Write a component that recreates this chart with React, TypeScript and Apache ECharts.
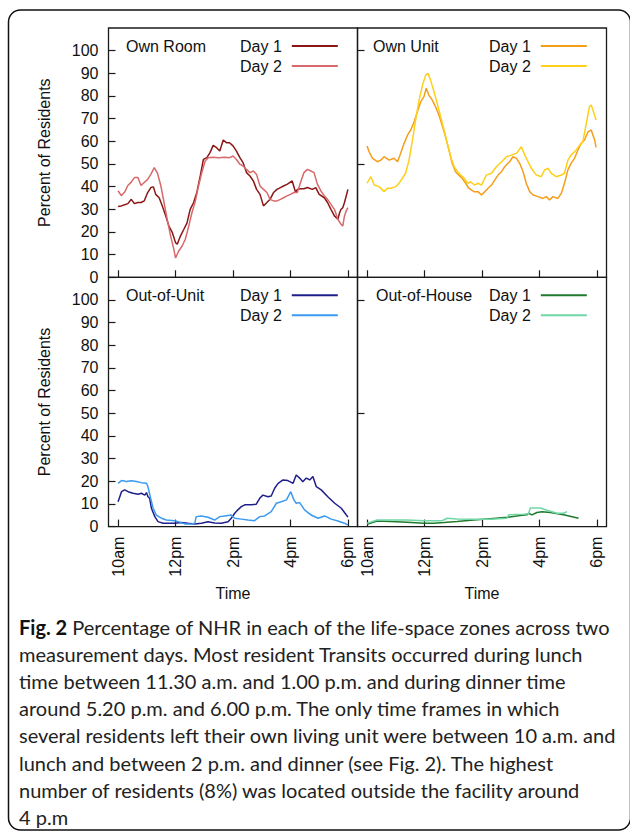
import React, { useEffect, useRef } from "react";
import * as echarts from "echarts";

const FONT = '"Liberation Sans", Arial, Helvetica, sans-serif';
const CAPTION_FONT = 'Lato, "Open Sans", sans-serif';

// x in hours after 10am
const tickHours = [0, 2, 4, 6, 8];
const tickLabels = ["10am", "12pm", "2pm", "4pm", "6pm"];
const yTickValues = [0, 10, 20, 30, 40, 50, 60, 70, 80, 90, 100];
const yTickValuesRight = [50, 100];

const panelTitles = ["Own Room", "Own Unit", "Out-of-Unit", "Out-of-House"];
const dayLabels = ["Day 1", "Day 2"];

const ownRoomDay1Hours = [0, 0.11, 0.23, 0.34, 0.46, 0.57, 0.69, 0.8, 0.91, 1.03, 1.14, 1.23, 1.31, 1.43, 1.54, 1.66, 1.77, 1.89, 2.0, 2.06, 2.17, 2.29, 2.4, 2.51, 2.63, 2.74, 2.86, 2.97, 3.09, 3.2, 3.31, 3.43, 3.54, 3.66, 3.77, 3.88, 4.0, 4.12, 4.24, 4.35, 4.47, 4.59, 4.71, 4.82, 4.94, 5.06, 5.18, 5.29, 5.41, 5.53, 5.65, 5.76, 5.88, 6.06, 6.18, 6.24, 6.35, 6.47, 6.59, 6.76, 6.88, 7.0, 7.18, 7.29, 7.41, 7.53, 7.65, 7.71, 7.76, 7.82, 7.88, 7.94, 8.0];
const ownRoomDay1Values = [31.2, 31.5, 32, 32.5, 34.4, 32.5, 33, 33, 33.7, 37.4, 39.6, 39.9, 36.6, 35.1, 31.5, 27, 22.6, 19.7, 15.3, 14.6, 18.2, 21.2, 24, 30, 33, 37.4, 44.7, 52, 52.8, 55, 58.2, 57.2, 55.7, 60.6, 59.4, 59.4, 58, 55.7, 52.8, 50.6, 46.2, 44.7, 42.5, 38.8, 36.6, 31.5, 33, 34.4, 37.4, 38.8, 39.6, 40.3, 41, 42.5, 37.4, 38.8, 39.1, 39.1, 39.6, 38.8, 39.6, 36.6, 35.1, 33, 30, 27.1, 25.6, 28.5, 30, 30.7, 33, 35.9, 38.8];

const ownRoomDay2Hours = [0, 0.11, 0.23, 0.34, 0.46, 0.57, 0.69, 0.8, 0.91, 1.03, 1.14, 1.26, 1.37, 1.49, 1.6, 1.71, 1.83, 1.94, 2.0, 2.11, 2.23, 2.34, 2.46, 2.57, 2.69, 2.8, 2.91, 3.03, 3.14, 3.3, 3.5, 3.7, 3.88, 4.0, 4.12, 4.24, 4.35, 4.47, 4.59, 4.71, 4.82, 4.94, 5.06, 5.18, 5.29, 5.41, 5.53, 5.65, 5.76, 5.88, 6.0, 6.12, 6.24, 6.35, 6.47, 6.59, 6.71, 6.82, 6.94, 7.06, 7.18, 7.29, 7.41, 7.53, 7.65, 7.76, 7.82, 7.88, 7.94, 8.0];
const ownRoomDay2Values = [38.2, 36, 37.6, 40.5, 42, 44, 44, 40.5, 41.8, 43.2, 45.4, 48.4, 46, 40.3, 33, 25.6, 18.2, 12.4, 8.5, 11.6, 13.8, 16.8, 22.6, 28.5, 33.6, 40.3, 46, 51.3, 52.8, 53, 52.8, 53, 52.8, 53.5, 52, 49.9, 49.1, 47.6, 46.2, 46.9, 45.4, 40.3, 38.8, 37.4, 34.4, 33.7, 33.7, 34.4, 35.1, 35.9, 36.6, 37.4, 37.4, 41.8, 46.2, 47.6, 46.9, 46.2, 41, 38.1, 35.9, 34.4, 32.2, 30, 25.6, 23.4, 22.6, 27.1, 29.3, 30.7];

const ownUnitDay1Hours = [0, 0.07, 0.19, 0.36, 0.48, 0.59, 0.77, 0.94, 1.06, 1.17, 1.29, 1.41, 1.52, 1.64, 1.75, 1.87, 1.98, 2.06, 2.15, 2.27, 2.38, 2.5, 2.61, 2.73, 2.85, 2.96, 3.08, 3.19, 3.31, 3.43, 3.54, 3.72, 3.86, 3.98, 4.1, 4.21, 4.33, 4.44, 4.56, 4.68, 4.79, 4.96, 5.08, 5.2, 5.31, 5.43, 5.54, 5.66, 5.78, 5.95, 6.12, 6.24, 6.35, 6.47, 6.64, 6.76, 6.87, 6.99, 7.1, 7.22, 7.34, 7.45, 7.57, 7.69, 7.8, 7.86, 7.92, 7.97];
const ownUnitDay1Values = [57.9, 55.4, 52.5, 51, 51.7, 53.2, 51.7, 52.5, 51, 54.7, 59.1, 62.8, 65, 68.6, 73, 77.5, 79.7, 83.4, 80.4, 78.2, 75.3, 71.6, 67.2, 62, 56.2, 50.3, 46.6, 45.1, 43.7, 41.5, 39.3, 37.8, 37.8, 36.3, 37.8, 39.3, 40.7, 42.9, 45.1, 46.6, 48.8, 51, 53.2, 52.5, 50.3, 46.6, 41.5, 37.8, 36.3, 35.6, 34.8, 35.6, 34.1, 35.6, 34.8, 37, 41.5, 47.4, 50.3, 52.5, 56.2, 59.1, 60.6, 64.2, 65, 62.8, 60.6, 57.3];

const ownUnitDay2Hours = [0, 0.13, 0.25, 0.42, 0.59, 0.71, 0.82, 1.0, 1.11, 1.23, 1.34, 1.46, 1.58, 1.69, 1.81, 1.93, 2.04, 2.12, 2.21, 2.33, 2.44, 2.56, 2.68, 2.79, 2.91, 3.03, 3.15, 3.26, 3.38, 3.5, 3.61, 3.73, 3.86, 3.98, 4.15, 4.33, 4.5, 4.68, 4.85, 5.02, 5.2, 5.37, 5.49, 5.6, 5.72, 5.89, 6.06, 6.18, 6.3, 6.41, 6.58, 6.76, 6.87, 6.99, 7.1, 7.28, 7.4, 7.51, 7.63, 7.74, 7.8, 7.86, 7.97];
const ownUnitDay2Values = [41.5, 44.4, 40.7, 40, 37.8, 39.3, 39.3, 40, 41.5, 43.7, 45.9, 51.7, 60.5, 69.3, 78.2, 84.8, 89.2, 90, 87, 81.9, 76.8, 70.9, 65, 59.1, 53.2, 48.8, 46.6, 45.1, 43.7, 41.5, 42.2, 40.7, 41.5, 40.7, 45.1, 45.9, 48.8, 51, 53.2, 53.9, 54.7, 57.6, 53.9, 51, 48.1, 45.1, 44.4, 47.4, 48.1, 45.9, 44.4, 45.1, 45.9, 51.7, 53.9, 56.2, 58.3, 59.8, 67.9, 75.3, 76, 73.8, 69.4];

const outOfUnitDay1Hours = [0, 0.12, 0.23, 0.35, 0.52, 0.7, 0.81, 0.93, 0.99, 1.04, 1.1, 1.16, 1.28, 1.39, 1.57, 1.74, 1.97, 2.2, 2.43, 2.67, 2.9, 3.13, 3.36, 3.59, 3.83, 3.94, 4.06, 4.17, 4.29, 4.41, 4.64, 4.81, 4.93, 5.04, 5.22, 5.33, 5.45, 5.57, 5.74, 5.91, 6.09, 6.2, 6.32, 6.43, 6.55, 6.67, 6.78, 6.9, 7.07, 7.3, 7.54, 7.77, 7.94, 8.0];
const outOfUnitDay1Values = [11, 15.4, 16.2, 15.4, 14.7, 14.3, 14.7, 13.9, 15, 13.2, 12.5, 8.1, 4.4, 2.2, 1.5, 1.5, 1.5, 1.8, 1.5, 1.2, 1.5, 2.1, 1.6, 1.5, 2.1, 3.7, 5.9, 7.4, 8.8, 9.6, 9.6, 9.9, 12.5, 13.9, 13.2, 13.5, 16.9, 19.1, 20.6, 20.3, 19.1, 22.8, 21.4, 19.8, 21.4, 20.6, 22.1, 17.6, 16.2, 13.2, 10.3, 8.1, 5.2, 4.2];

const outOfUnitDay2Hours = [0, 0.12, 0.29, 0.46, 0.64, 0.81, 0.99, 1.04, 1.12, 1.22, 1.33, 1.51, 1.68, 1.97, 2.09, 2.32, 2.55, 2.67, 2.72, 2.9, 3.13, 3.36, 3.54, 3.71, 3.94, 4.06, 4.29, 4.52, 4.75, 4.93, 5.1, 5.33, 5.51, 5.68, 5.86, 6.01, 6.12, 6.2, 6.32, 6.49, 6.72, 6.96, 7.19, 7.42, 7.65, 7.88, 8.0];
const outOfUnitDay2Values = [19.1, 20.3, 19.9, 20.2, 19.9, 19.4, 19.1, 17.6, 13.2, 8.1, 5.1, 3.7, 2.9, 2.6, 2.2, 1.2, 1.2, 1.5, 4.4, 4.7, 4.1, 2.9, 4.4, 4.7, 5.1, 3.7, 3.3, 2.9, 2.6, 4.4, 4.7, 6.6, 10.3, 11, 11.8, 15.4, 11.8, 10.3, 10.6, 7.4, 5.1, 3.7, 4.7, 3.3, 2.5, 1.5, 0.7];

const outOfHouseDay1Hours = [0, 0.35, 0.82, 1.4, 1.98, 2.32, 2.67, 3.13, 3.71, 4.29, 4.87, 5.33, 5.57, 5.62, 5.74, 5.91, 6.09, 6.38, 6.84, 7.36];
const outOfHouseDay1Values = [1, 2.5, 2.2, 1.9, 1.5, 1.5, 1.8, 2.2, 2.9, 3.5, 4.1, 4.9, 5.2, 5.9, 5.2, 6.2, 6.6, 6.2, 5.2, 3.7];

const outOfHouseDay2Hours = [0, 0.35, 0.82, 1.4, 1.98, 2.61, 2.79, 3.13, 3.71, 4.29, 4.87, 4.93, 5.45, 5.62, 5.68, 6.03, 6.26, 6.61, 6.84, 6.96];
const outOfHouseDay2Values = [1.5, 2.9, 2.9, 2.9, 2.6, 2.6, 3.7, 3.4, 3.2, 3.2, 3.7, 5.2, 5.5, 5.7, 8.2, 8.2, 7.2, 5.9, 5.9, 6.6];

const captionLines = [
  "Percentage of NHR in each of the life-space zones across two",
  "measurement days. Most resident Transits occurred during lunch",
  "time between 11.30 a.m. and 1.00 p.m. and during dinner time",
  "around 5.20 p.m. and 6.00 p.m. The only time frames in which",
  "several residents left their own living unit were between 10 a.m. and",
  "lunch and between 2 p.m. and dinner (see Fig. 2). The highest",
  "number of residents (8%) was located outside the facility around",
  "4 p.m",
];

const pair = (h: number[], v: number[]) => h.map((x, i) => [x, v[i]]);

const panelSeries = [
  [pair(ownRoomDay1Hours, ownRoomDay1Values), pair(ownRoomDay2Hours, ownRoomDay2Values)],
  [pair(ownUnitDay1Hours, ownUnitDay1Values), pair(ownUnitDay2Hours, ownUnitDay2Values)],
  [pair(outOfUnitDay1Hours, outOfUnitDay1Values), pair(outOfUnitDay2Hours, outOfUnitDay2Values)],
  [pair(outOfHouseDay1Hours, outOfHouseDay1Values), pair(outOfHouseDay2Hours, outOfHouseDay2Values)],
];

const panelColors = [
  ["#8c1616", "#d8696b"],
  ["#f59e1b", "#fdd01a"],
  ["#1f1f8a", "#3a9bf0"],
  ["#1f7a2e", "#6fd6a6"],
];

const GRID_LEFT = [108.5, 357.5];
const GRID_TOP = [28, 277.3];
const GRID_W = 249;
const GRID_H = 249.3;

export default function App() {
  const ref = useRef<HTMLDivElement>(null);
  useEffect(() => {
    if (!ref.current) return;
    const chart = echarts.init(ref.current, undefined, { renderer: "svg" });
    const grids: any[] = [];
    const xAxes: any[] = [];
    const yAxes: any[] = [];
    const series: any[] = [];
    const titles: any[] = [];
    const legends: any[] = [];
    const textStyle = { fontFamily: FONT, fontSize: 16, color: "#111" };
    for (let i = 0; i < 4; i++) {
      const col = i % 2;
      const row = Math.floor(i / 2);
      const left = GRID_LEFT[col];
      const top = GRID_TOP[row];
      grids.push({
        left, top, width: GRID_W, height: GRID_H,
        show: true, borderColor: "#1a1a1a", borderWidth: 1.3, backgroundColor: "transparent",
      });
      xAxes.push({
        type: "value", gridIndex: i, min: -0.333, max: 8.333, position: "bottom",
        axisLine: { show: false, onZero: false }, splitLine: { show: false },
        axisTick: { show: true, inside: true, length: 7, customValues: tickHours, lineStyle: { color: "#1a1a1a", width: 1.2 } },
        axisLabel: {
          show: row === 1, customValues: tickHours, rotate: 90, margin: 10, ...textStyle,
          formatter: (v: number) => { const k = tickHours.indexOf(v); return k >= 0 ? tickLabels[k] : ""; },
        },
        name: row === 1 ? "Time" : "", nameLocation: "middle", nameGap: 59,
        nameTextStyle: { ...textStyle },
      });
      yAxes.push({
        type: "value", gridIndex: i, min: 0, max: 110, position: "left",
        axisLine: { show: false, onZero: false }, splitLine: { show: false },
        axisTick: { show: true, inside: true, length: 7, customValues: col === 0 ? yTickValues : yTickValuesRight, lineStyle: { color: "#1a1a1a", width: 1.2 } },
        axisLabel: { show: col === 0, customValues: yTickValues, margin: 10, ...textStyle },
        name: col === 0 ? "Percent of Residents" : "", nameLocation: "middle", nameGap: 56,
        nameTextStyle: { ...textStyle },
      });
      const names = dayLabels.map((d) => panelTitles[i] + " " + d);
      for (let d = 0; d < 2; d++) {
        series.push({
          type: "line", name: names[d], xAxisIndex: i, yAxisIndex: i,
          data: panelSeries[i][d], showSymbol: false, symbol: "none",
          lineStyle: { color: panelColors[i][d], width: 1.5 },
          itemStyle: { color: panelColors[i][d] },
        });
      }
      titles.push({
        text: panelTitles[i], left: col === 0 ? 126 : (row === 0 ? 373 : 376), top: top + 8, padding: 0,
        textStyle: { ...textStyle, fontWeight: "normal", lineHeight: 20 },
      });
      legends.push({
        data: names, left: col === 0 ? 240 : 489, top: top + 8, padding: 0,
        orient: "vertical", align: "right", icon: "rect", itemWidth: 46, itemHeight: 2, itemGap: 0,
        selectedMode: false,
        textStyle: { ...textStyle, lineHeight: 20, padding: [0, 5, 0, 0] },
        formatter: (n: string) => (n.endsWith("1") ? dayLabels[0] : dayLabels[1]),
      });
    }
    chart.setOption({
      animation: false,
      backgroundColor: "#fff",
      grid: grids, xAxis: xAxes, yAxis: yAxes, series, title: titles, legend: legends,
      graphic: [
        { type: "rect", shape: { x: 8.5, y: 10, width: 622, height: 820, r: 12 }, style: { fill: "none", stroke: "#111", lineWidth: 1.5 } },
        {
          type: "text", left: 19, top: 613,
          style: {
            text: "{b|Fig. 2} " + captionLines.join("\n"),
            fontFamily: CAPTION_FONT, fontSize: 20, lineHeight: 27.2, fill: "#222",
            rich: { b: { fontFamily: CAPTION_FONT, fontSize: 20, fontWeight: "bold", lineHeight: 27.2, fill: "#111" } },
          },
        },
      ],
    });
    return () => chart.dispose();
  }, []);
  return <div ref={ref} style={{ position: "fixed", left: 0, top: 0, width: 630, height: 833 }} />;
}
